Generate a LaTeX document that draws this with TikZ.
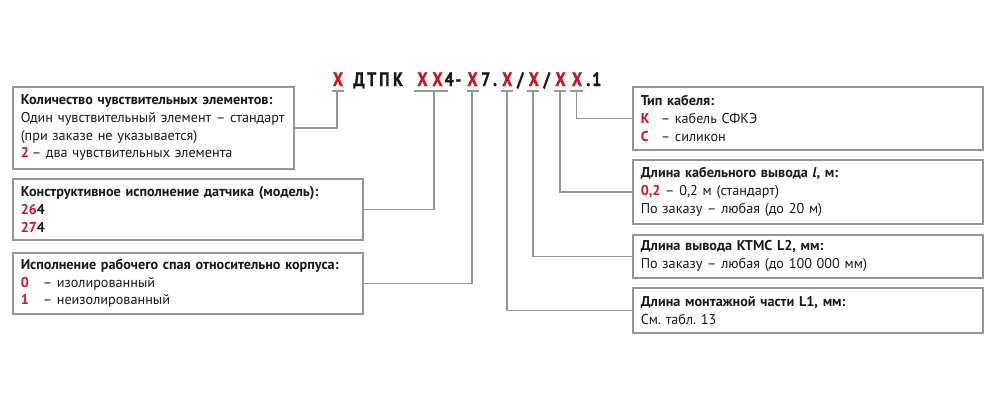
\documentclass[tikz,border=0pt]{standalone}
\usepackage{fontspec}
\setmainfont{PT Sans}
\newfontfamily\codefont[FakeStretch=0.82,FakeBold=1.2]{PT Sans}
\definecolor{myred}{RGB}{200,22,30}
\definecolor{linegray}{RGB}{150,150,150}
\definecolor{txt}{RGB}{25,25,25}
\newcommand{\rd}[1]{\textcolor{myred}{\textbf{#1}}}
\newcommand{\lbl}[2]{\makebox[#1][l]{\rd{#2}}}
\frenchspacing
\begin{document}
\begin{tikzpicture}[x=1pt,y=-1pt,
  code/.style={font=\codefont\bfseries\fontsize{19.5}{19.5}\selectfont, inner sep=0pt, anchor=base, text=txt},
  cx/.style={code, text=myred},
  ul/.style={draw=linegray, line width=1.5pt},
  conn/.style={draw=linegray, line width=1.5pt},
  infobox/.style={draw=linegray, line width=1.5pt, anchor=north west, inner xsep=8pt, inner ysep=0pt,
    align=left, text=txt, font=\fontsize{14.2}{17.7}\selectfont}]
\useasboundingbox (0,0) rectangle (1000,400);
\fill[white] (0,0) rectangle (1000,400);

% code string
\node[cx]   (x1) at (338,86) {X};
\node[code] (d1) at (359,86) {Д};
\node[code] (d2) at (371.7,86) {Т};
\node[code] (d3) at (384.3,86) {П};
\node[code] (d4) at (398,86) {К};
\node[cx]   (x2a) at (422.5,86) {X};
\node[cx]   (x2b) at (437.5,86) {X};
\node[code] (n4) at (449.2,86) {4};
\node[code] (dash) at (458.3,86) {-};
\node[cx]   (x3) at (472.5,86) {X};
\node[code] (n7) at (485.8,86) {7};
\node[code] (dot1) at (495,86) {.};
\node[cx]   (x4) at (507.2,86) {X};
\node[code] (sl1) at (520.3,86) {/};
\node[cx]   (x5) at (533.8,86) {X};
\node[code] (sl2) at (546.7,86) {/};
\node[cx]   (x6) at (560.5,86) {X};
\node[cx]   (x7) at (577,86) {X};
\node[code] (dot2) at (588.3,86) {.};
\node[code] (n1) at (596.7,86) {1};

% underlines
\draw[ul] (331.5,91) -- (343.5,91);
\draw[ul] (414,91) -- (448,91);
\draw[ul] (466.5,91) -- (478.5,91);
\draw[ul] (501,91) -- (513,91);
\draw[ul] (527,91) -- (539,91);
\draw[ul] (554,91) -- (566,91);
\draw[ul] (570,91) -- (583,91);
\coordinate (u1) at (337,91);
\coordinate (u2) at (434,91);
\coordinate (u3) at (472,91);
\coordinate (u4) at (507,91);
\coordinate (u5) at (533,91);
\coordinate (u6) at (560,91);
\coordinate (u7) at (576.5,91);

% left boxes
\node[infobox, text width=265pt, minimum height=82pt] (b1) at (12,86) {%
\textbf{Количество чувствительных элементов:}\\
Один чувствительный элемент – стандарт\\
(при заказе не указывается)\\
\lbl{11pt}{2}– два чувствительных элемента};

\node[infobox, text width=334pt, minimum height=61pt] (b2) at (12,178) {%
\textbf{Конструктивное исполнение датчика (модель):}\\
\rd{26}\textbf{4}\\
\rd{27}\textbf{4}};

\node[infobox, text width=334pt, minimum height=61pt] (b3) at (12,252) {%
\textbf{Исполнение рабочего спая относительно корпуса:}\\
\lbl{22pt}{0}– изолированный\\
\lbl{22pt}{1}– неизолированный};

% right boxes
\node[infobox, text width=334pt, minimum height=63pt] (r1) at (632,86) {%
\textbf{Тип кабеля:}\\
\lbl{20pt}{К}– кабель СФКЭ\\
\lbl{20pt}{С}– силикон};

\node[infobox, text width=334pt, minimum height=64pt] (r2) at (632,159) {%
\textbf{Длина кабельного вывода \textit{l}, м:}\\
\rd{0,2} – 0,2 м (стандарт)\\
По заказу – любая (до 20 м)};

\node[infobox, text width=334pt, minimum height=43pt] (r3) at (632,234) {%
\textbf{Длина вывода КТМС L2, мм:}\\
По заказу – любая (до 100 000 мм)};

\node[infobox, text width=334pt, minimum height=45pt] (r4) at (632,287) {%
\textbf{Длина монтажной части L1, мм:}\\
См. табл. 13};

% connectors
\draw[conn] (u1) |- (b1.east);
\draw[conn] (u2) |- (b2.east);
\draw[conn] (u3) |- (b3.east);
\draw[conn] (u4) |- (r4.west);
\draw[conn] (u5) |- (r3.west);
\draw[conn] (u6) |- (r2.west);
\draw[conn] (u7) |- (r1.west);
\end{tikzpicture}
\end{document}
